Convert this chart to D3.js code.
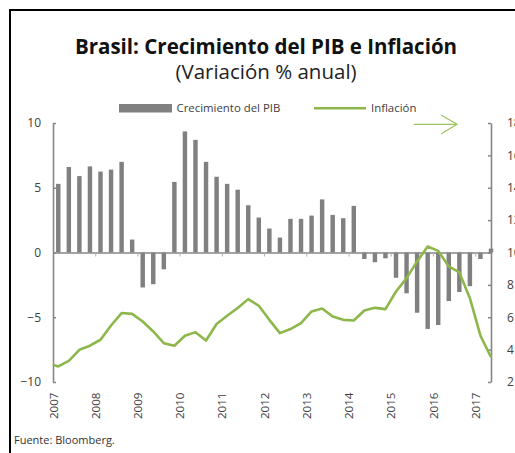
<!DOCTYPE html>
<html><head><meta charset="utf-8">
<script src="https://cdn.jsdelivr.net/npm/d3@7"></script>
<style>
html,body{margin:0;padding:0;background:#fff;}
svg{display:block;font-family:"Open Sans",sans-serif;}
</style></head>
<body><svg id="c" width="515" height="453"></svg>
<script>
// ---- data ----
const years = ["2007","2008","2009","2010","2011","2012","2013","2014","2015","2016","2017"];
// quarterly GDP growth (% y/y), 2007T1 .. 2017T2
const gdp = [5.3,6.6,5.9,6.65,6.25,6.4,7.0,1.0,
             -2.7,-2.45,-1.3,5.45,
             9.35,8.7,7.0,5.85,
             5.3,4.85,3.65,2.7,
             1.85,1.15,2.6,2.6,
             2.85,4.1,2.9,2.65,
             3.6,-0.5,-0.75,-0.45,
             -1.95,-3.15,-4.65,-5.9,
             -5.6,-3.75,-3.05,-2.6,
             -0.5,0.3];
// inflation (% y/y): value at start of 2007, then quarterly 2007T1 .. 2017T2
const inflationStart = 3.06;
const inflation = [2.96,3.31,3.99,4.24,4.61,5.49,6.26,6.21,
                   5.74,5.12,4.40,4.24,
                   4.86,5.08,4.56,5.58,
                   6.09,6.57,7.12,6.71,
                   5.84,5.02,5.27,5.64,
                   6.36,6.54,6.05,5.84,
                   5.80,6.42,6.58,6.50,
                   7.59,8.42,9.45,10.37,
                   10.10,9.14,8.77,7.18,
                   4.86,3.54];
const leftTicks = [-10,-5,0,5,10];
const rightTicks = [2,4,6,8,10,12,14,16,18];

// ---- layout ----
const svg = d3.select("#c");
const X0 = 53, X1 = 491, Ytop = 123, Ybot = 382;
const x = d3.scaleLinear().domain([0, gdp.length - 0.5]).range([X0, X1]);
const yL = d3.scaleLinear().domain([-10, 10]).range([Ybot, Ytop]);
const yR = d3.scaleLinear().domain([2, 18]).range([Ybot, Ytop]);
const axisColor = "#868686", textColor = "#404040";
const green = "#8db64b", barColor = "#808080";

// frame
svg.append("rect").attr("x", 10).attr("y", 10).attr("width", 530).attr("height", 470)
  .attr("fill", "none").attr("stroke", "#000").attr("stroke-width", 2);

// titles
svg.append("text").attr("x", 266).attr("y", 54).attr("text-anchor", "middle")
  .attr("font-size", 20.5).attr("font-weight", 700).attr("fill", "#111")
  .text("Brasil: Crecimiento del PIB e Inflación");
svg.append("text").attr("x", 266).attr("y", 79).attr("text-anchor", "middle")
  .attr("font-size", 20.5).attr("fill", "#222")
  .text("(Variación % anual)");

// legend
const lg = svg.append("g");
lg.append("rect").attr("x", 119).attr("y", 104).attr("width", 53).attr("height", 8.5).attr("fill", barColor);
lg.append("text").attr("x", 176.5).attr("y", 112).attr("font-size", 11.4).attr("fill", textColor).text("Crecimiento del PIB");
lg.append("line").attr("x1", 314).attr("x2", 366).attr("y1", 108.3).attr("y2", 108.3)
  .attr("stroke", green).attr("stroke-width", 2.5);
lg.append("text").attr("x", 371).attr("y", 112).attr("font-size", 11.4).attr("fill", textColor).text("Inflación");

// annotation arrow toward the right axis
svg.append("path").attr("d", "M414,124.3 L457,124.3 M441,115 L457,124.3 L441,134")
  .attr("fill", "none").attr("stroke", "#9cc45e").attr("stroke-width", 1.2);

// bars
const bw = (x(1) - x(0)) * 0.42;
svg.append("g").selectAll("rect").data(gdp).join("rect")
  .attr("x", (d, i) => x(i + 0.5) - bw / 2)
  .attr("width", bw)
  .attr("y", d => yL(Math.max(0, d)))
  .attr("height", d => Math.abs(yL(d) - yL(0)))
  .attr("fill", barColor);

// zero axis with year ticks
const quarterTicks = years.map((y, k) => k * 4);
const zeroAxis = svg.append("g").attr("transform", `translate(0,${yL(0)})`)
  .call(d3.axisBottom(x).tickValues(quarterTicks).tickSizeInner(4).tickSizeOuter(0).tickFormat(""));
zeroAxis.select(".domain").attr("stroke", axisColor).attr("stroke-width", 1.5);
zeroAxis.selectAll(".tick line").attr("stroke", "#b0b0b0").attr("stroke-width", 1);

// year labels at bottom
const xl = svg.append("g").attr("transform", `translate(0,${Ybot})`)
  .call(d3.axisBottom(x).tickValues(quarterTicks).tickSize(0).tickFormat((d, k) => years[k]));
xl.select(".domain").remove();
xl.selectAll("text").attr("font-size", 11.6).attr("fill", textColor).attr("font-family", "Open Sans")
  .attr("transform", "rotate(-90)").attr("text-anchor", "end")
  .attr("x", -10.5).attr("y", 0).attr("dy", "0.35em");

// left axis
const la = svg.append("g").attr("transform", `translate(${X0},0)`)
  .call(d3.axisLeft(yL).tickValues(leftTicks).tickSizeInner(-3).tickSizeOuter(0).tickPadding(12));
la.select(".domain").attr("stroke", axisColor).attr("stroke-width", 1.6);
la.selectAll(".tick line").attr("stroke", axisColor).attr("stroke-width", 1.5);
la.selectAll("text").attr("font-size", 12).attr("fill", textColor).attr("font-family", "Open Sans");

// right axis
const ra = svg.append("g").attr("transform", `translate(${X1},0)`)
  .call(d3.axisRight(yR).tickValues(rightTicks).tickSizeInner(-3).tickSizeOuter(0).tickPadding(16));
ra.select(".domain").attr("stroke", axisColor).attr("stroke-width", 1.6);
ra.selectAll(".tick line").attr("stroke", axisColor).attr("stroke-width", 1.5);
ra.selectAll("text").attr("font-size", 12).attr("fill", textColor).attr("font-family", "Open Sans");

// inflation line
const linePts = [[0, inflationStart]].concat(inflation.map((v, i) => [i + 0.5, v]));
svg.append("path").datum(linePts)
  .attr("d", d3.line().x(d => x(d[0])).y(d => yR(d[1])))
  .attr("fill", "none").attr("stroke", green).attr("stroke-width", 2.6)
  .attr("stroke-linejoin", "round");

// source
svg.append("text").attr("x", 14).attr("y", 444).attr("font-size", 11).attr("fill", "#333")
  .text("Fuente: Bloomberg.");
</script></body></html>
